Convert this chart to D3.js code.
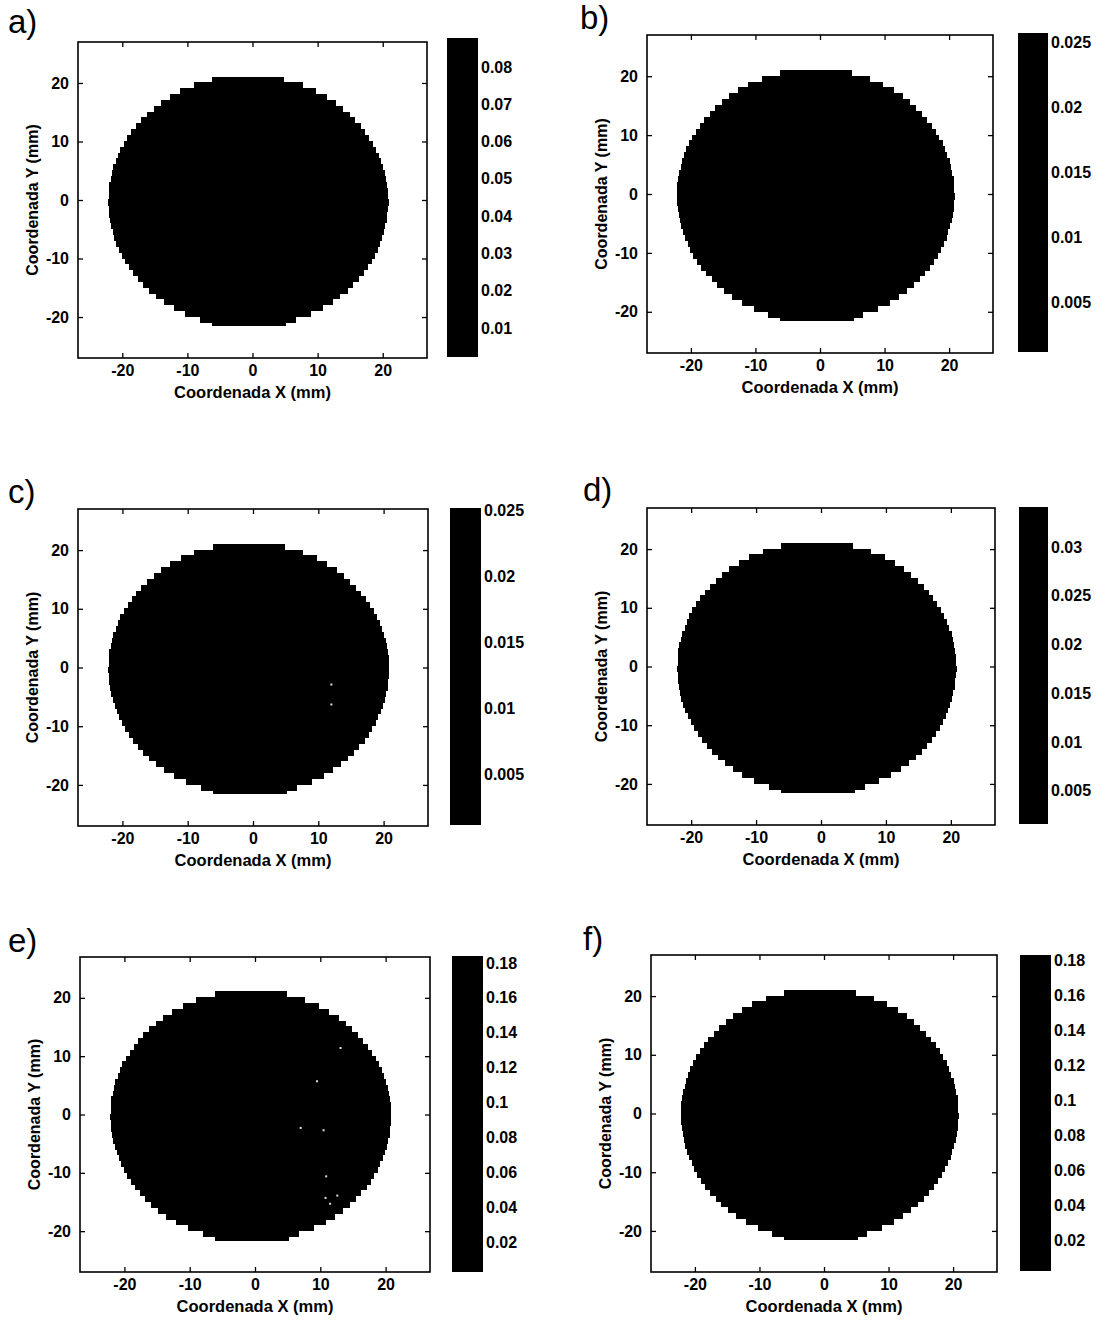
<!DOCTYPE html>
<html>
<head>
<meta charset="utf-8">
<script src="https://cdn.jsdelivr.net/npm/d3@7"></script>
<style>
  html, body { margin: 0; padding: 0; background: #fff; }
  svg { display: block; }
  text { font-family: "Liberation Sans", Arial, Helvetica, sans-serif; }
</style>
</head>
<body>
<svg id="chart" width="1108" height="1322"></svg>
<script>
// ---------------- DATA ----------------
const panelLabels = ["a)", "b)", "c)", "d)", "e)", "f)"];
const xTicks = [-20, -10, 0, 10, 20];
const yTicks = [-20, -10, 0, 10, 20];
const xDomain = [-26.8, 26.8];
const yDomain = [-27, 27];
const xTitle = "Coordenada X (mm)";
const yTitle = "Coordenada Y (mm)";

const rowY = [20.6, 19.6, 18.6, 17.6, 16.6, 15.6, 14.6, 13.6, 12.6, 11.6, 10.6, 9.6, 8.6, 7.6, 6.6, 5.6,
  4.6, 3.6, 2.6, 1.6, 0.6, -0.4, -1.4, -2.4, -3.4, -4.4, -5.4, -6.4, -7.4, -8.4, -9.4, -10.4, -11.4,
  -12.4, -13.4, -14.4, -15.4, -16.4, -17.4, -18.4, -19.4, -20.4, -21.0];
const rowXMin = [-6.2, -9.0, -11.1, -12.7, -14.1, -15.2, -16.2, -17.1, -17.9, -18.6, -19.2, -19.8, -20.3,
  -20.7, -21.0, -21.4, -21.6, -21.8, -22.0, -22.1, -22.1, -22.2, -22.1, -22.0, -21.9, -21.7, -21.5, -21.2,
  -20.9, -20.5, -20.1, -19.6, -19.0, -18.4, -17.6, -16.8, -15.9, -14.8, -13.6, -12.1, -10.3, -8.0, -6.2];
const rowXMax = [4.9, 7.7, 9.8, 11.4, 12.8, 13.9, 14.9, 15.8, 16.6, 17.3, 17.9, 18.5, 19.0,
  19.4, 19.7, 20.1, 20.3, 20.5, 20.7, 20.8, 20.8, 20.9, 20.8, 20.7, 20.6, 20.4, 20.2, 19.9,
  19.6, 19.2, 18.8, 18.3, 17.7, 17.1, 16.3, 15.5, 14.6, 13.5, 12.3, 10.8, 9.0, 6.7, 5.2];

// light specks inside some maps (panel index, x mm, y mm)
const speckPanel = [2, 2, 4, 4, 4, 4, 4, 4, 4, 4];
const speckX = [12.0, 12.0, 13.1, 9.5, 7.0, 10.5, 10.9, 10.8, 12.6, 11.5];
const speckY = [-2.9, -6.3, 11.4, 5.7, -2.3, -2.7, -10.6, -14.3, -13.9, -15.3];

// colour bar limits and tick labels
const cbarMin = [0.0022, 0.0012, 0.0012, 0.0016, 0.0028, 0.0023];
const cbarMax = [0.0878, 0.0257, 0.0252, 0.0341, 0.184, 0.183];
const cbarTicks = [
  [0.01, 0.02, 0.03, 0.04, 0.05, 0.06, 0.07, 0.08],
  [0.005, 0.01, 0.015, 0.02, 0.025],
  [0.005, 0.01, 0.015, 0.02, 0.025],
  [0.005, 0.01, 0.015, 0.02, 0.025, 0.03],
  [0.02, 0.04, 0.06, 0.08, 0.1, 0.12, 0.14, 0.16, 0.18],
  [0.02, 0.04, 0.06, 0.08, 0.1, 0.12, 0.14, 0.16, 0.18]
];

// ---------------- LAYOUT ----------------
const layout = [
  {bx: 78,  by: 42,  bw: 349, bh: 316, cx: 447,  cy: 38,  cw: 31, ch: 319, lx: 8,   ly: 33},
  {bx: 647, by: 35,  bw: 346, bh: 318, cx: 1018, cy: 33,  cw: 30, ch: 319, lx: 580, ly: 29},
  {bx: 78,  by: 509, bw: 350, bh: 317, cx: 450,  cy: 508, cw: 31, ch: 317, lx: 8,   ly: 503},
  {bx: 647, by: 508, bw: 348, bh: 317, cx: 1019, cy: 507, cw: 29, ch: 317, lx: 583, ly: 501},
  {bx: 80,  by: 957, bw: 350, bh: 315, cx: 452,  cy: 956, cw: 31, ch: 316, lx: 8,   ly: 952},
  {bx: 651, by: 955, bw: 346, bh: 317, cx: 1020, cy: 955, cw: 31, ch: 316, lx: 583, ly: 950}
];

const svg = d3.select("#chart");
const fmt = v => String(+v.toFixed(4));
const intFmt = v => String(v); // plain hyphen-minus like the original

panelLabels.forEach((lab, p) => {
  const L = layout[p];
  const g = svg.append("g");
  const xs = d3.scaleLinear().domain(xDomain).range([L.bx, L.bx + L.bw]);
  const ys = d3.scaleLinear().domain(yDomain).range([L.by + L.bh, L.by]);

  // disk rows
  g.append("g").attr("shape-rendering", "crispEdges")
    .selectAll("rect").data(rowY).join("rect")
    .attr("x", (d, i) => xs(rowXMin[i]))
    .attr("width", (d, i) => xs(rowXMax[i]) - xs(rowXMin[i]))
    .attr("y", d => ys(d + 0.5))
    .attr("height", d => ys(d - 0.5) - ys(d + 0.5) + 0.6)
    .attr("fill", "#000");

  // specks
  const sp = speckPanel.map((q, i) => i).filter(i => speckPanel[i] === p);
  g.selectAll("rect.speck").data(sp).join("rect").attr("class", "speck")
    .attr("x", i => xs(speckX[i]) - 1).attr("y", i => ys(speckY[i]) - 1)
    .attr("width", 2).attr("height", 2).attr("fill", "#ddd");

  // axes (ticks inward on all sides)
  const tickStyle = sel => {
    sel.select(".domain").remove();
    sel.selectAll(".tick line").attr("stroke", "#000").attr("stroke-width", 1.3);
    sel.selectAll("text").attr("font-size", 16).attr("font-weight", "bold").attr("fill", "#000");
  };
  g.append("g").attr("transform", `translate(0,${L.by + L.bh})`)
    .call(d3.axisBottom(xs).tickValues(xTicks).tickSizeInner(-5).tickSizeOuter(0).tickPadding(7).tickFormat(intFmt))
    .call(tickStyle);
  g.append("g").attr("transform", `translate(0,${L.by})`)
    .call(d3.axisTop(xs).tickValues(xTicks).tickSizeInner(-5).tickSizeOuter(0).tickFormat(""))
    .call(tickStyle);
  g.append("g").attr("transform", `translate(${L.bx},0)`)
    .call(d3.axisLeft(ys).tickValues(yTicks).tickSizeInner(-5).tickSizeOuter(0).tickPadding(9).tickFormat(intFmt))
    .call(tickStyle);
  g.append("g").attr("transform", `translate(${L.bx + L.bw},0)`)
    .call(d3.axisRight(ys).tickValues(yTicks).tickSizeInner(-5).tickSizeOuter(0).tickFormat(""))
    .call(tickStyle);
  g.selectAll("text").attr("font-family", "'Liberation Sans', Arial, sans-serif");

  // frame
  g.append("rect").attr("x", L.bx).attr("y", L.by).attr("width", L.bw).attr("height", L.bh)
    .attr("fill", "none").attr("stroke", "#000").attr("stroke-width", 1.6);

  // axis titles
  g.append("text").attr("x", (L.bx + L.bx + L.bw) / 2).attr("y", L.by + L.bh + 40)
    .attr("text-anchor", "middle").attr("font-size", 16.5).attr("font-weight", "bold").text(xTitle);
  g.append("text")
    .attr("transform", `translate(${L.bx - 40},${L.by + L.bh / 2}) rotate(-90)`)
    .attr("text-anchor", "middle").attr("font-size", 16).attr("font-weight", "bold").text(yTitle);

  // panel letter
  g.append("text").attr("x", L.lx).attr("y", L.ly).attr("font-size", 33).text(lab);

  // colour bar
  const cs = d3.scaleLinear().domain([cbarMin[p], cbarMax[p]]).range([L.cy + L.ch, L.cy]);
  g.append("rect").attr("x", L.cx).attr("y", cs(cbarMax[p])).attr("width", L.cw)
    .attr("height", cs(cbarMin[p]) - cs(cbarMax[p])).attr("fill", "#000");
  const cax = g.append("g").attr("transform", `translate(${L.cx + L.cw},0)`)
    .call(d3.axisRight(cs).tickValues(cbarTicks[p]).tickSizeInner(-4).tickSizeOuter(0).tickPadding(3).tickFormat(fmt));
  cax.select(".domain").remove();
  cax.selectAll(".tick line").attr("stroke", "#000");
  cax.selectAll("text").attr("font-size", 16).attr("font-weight", "bold").attr("fill", "#000")
    .attr("font-family", "'Liberation Sans', Arial, sans-serif");
});
</script>
</body>
</html>
